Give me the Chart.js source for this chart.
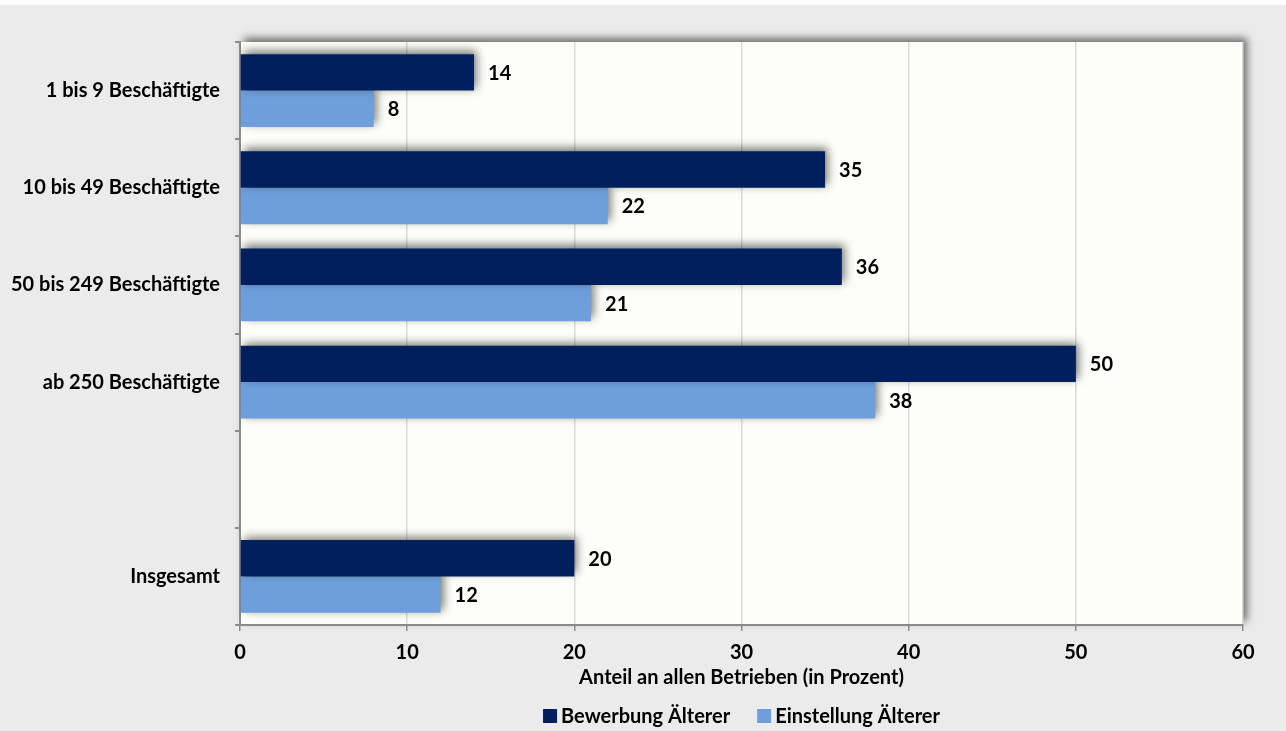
<!DOCTYPE html>
<html>
<head>
<meta charset="utf-8">
<script src="https://cdn.jsdelivr.net/npm/chart.js@4"></script>
<style>
  html, body { margin: 0; padding: 0; background: #ebebeb; }
  #wrap { width: 1286px; height: 731px; position: relative; }
</style>
</head>
<body>
<div id="wrap"><canvas id="chart" width="1286" height="731"></canvas></div>
<script>
// Betriebsgrößenklassen (leere Zeile als Abstand vor "Insgesamt")
const categories = ['1 bis 9 Beschäftigte', '10 bis 49 Beschäftigte', '50 bis 249 Beschäftigte', 'ab 250 Beschäftigte', '', 'Insgesamt'];
const bewerbung = [14, 35, 36, 50, null, 20];
const einstellung = [8, 22, 21, 38, null, 12];
const xTicks = [0, 10, 20, 30, 40, 50, 60];

const FONT = 'Lato, "Open Sans", sans-serif';
const FS = 20;

// Hintergrund der Grafik und Zeichenfläche mit Schatten
const backdrop = {
  id: 'backdrop',
  beforeDraw(chart) {
    const { ctx, chartArea: a, width, height } = chart;
    ctx.save();
    ctx.fillStyle = '#ebebeb';
    ctx.fillRect(0, 0, width, height);
    ctx.fillStyle = '#ffffff';
    ctx.fillRect(0, 0, width, 5);
    ctx.shadowColor = 'rgba(0,0,0,0.55)';
    ctx.shadowBlur = 8;
    ctx.shadowOffsetX = 4;
    ctx.shadowOffsetY = -4;
    ctx.fillStyle = '#fefef8';
    ctx.fillRect(a.left, a.top, a.right - a.left, a.bottom - a.top);
    ctx.restore();
  }
};

// Schlagschatten für die Balken
const barShadow = {
  id: 'barShadow',
  beforeDatasetsDraw(chart) {
    const ctx = chart.ctx;
    ctx.save();
    ctx.shadowColor = 'rgba(0,0,0,0.55)';
    ctx.shadowBlur = 9;
    ctx.shadowOffsetX = 3;
    ctx.shadowOffsetY = -3;
  },
  afterDatasetsDraw(chart) {
    chart.ctx.restore();
  }
};

// Wertebeschriftung rechts neben den Balken
const valueLabels = {
  id: 'valueLabels',
  afterDatasetsDraw(chart) {
    const ctx = chart.ctx;
    ctx.save();
    ctx.font = 'bold ' + FS + 'px ' + FONT;
    ctx.fillStyle = '#000000';
    ctx.textAlign = 'left';
    ctx.textBaseline = 'middle';
    chart.data.datasets.forEach((ds, i) => {
      chart.getDatasetMeta(i).data.forEach((bar, j) => {
        const v = ds.data[j];
        if (v === null || v === undefined) return;
        ctx.fillText(String(v), bar.x + 14, bar.y + 1);
      });
    });
    ctx.restore();
  }
};

// Legende unter der Achsenbeschriftung, zentriert zur Zeichenfläche
const bottomLegend = {
  id: 'bottomLegend',
  afterDraw(chart) {
    const { ctx, chartArea: a } = chart;
    const box = 14, gapText = 4, gapItem = 27, y = 716;
    ctx.save();
    ctx.font = 'bold ' + FS + 'px ' + FONT;
    ctx.textBaseline = 'middle';
    ctx.textAlign = 'left';
    const items = chart.data.datasets.map(ds => ({ text: ds.label, color: ds.backgroundColor, w: ctx.measureText(ds.label).width }));
    const total = items.reduce((s, it) => s + box + gapText + it.w, 0) + gapItem * (items.length - 1);
    let x = (a.left + a.right) / 2 - total / 2;
    items.forEach(it => {
      ctx.fillStyle = it.color;
      ctx.fillRect(x, y - box / 2, box, box);
      ctx.fillStyle = '#000';
      ctx.fillText(it.text, x + box + gapText, y + 1);
      x += box + gapText + it.w + gapItem;
    });
    ctx.restore();
  }
};

new Chart(document.getElementById('chart'), {
  type: 'bar',
  data: {
    labels: categories,
    datasets: [
      { label: 'Bewerbung Älterer', data: bewerbung, backgroundColor: '#001f5c', borderWidth: 0 },
      { label: 'Einstellung Älterer', data: einstellung, backgroundColor: '#6e9fda', borderWidth: 0 }
    ]
  },
  options: {
    indexAxis: 'y',
    responsive: false,
    animation: false,
    datasets: { bar: { barPercentage: 1, categoryPercentage: 0.75 } },
    layout: { padding: { top: 42, right: 43, left: 0, bottom: 41 } },
    scales: {
      x: {
        min: 0, max: 60,
        afterBuildTicks(scale) { scale.ticks = xTicks.map(v => ({ value: v })); },
        grid: { color: '#d9d9d9', lineWidth: 1.5, tickColor: '#8c8c8c', tickLength: 6 },
        border: { color: '#8c8c8c', width: 2 },
        ticks: { color: '#000', font: { family: FONT, weight: 'bold', size: FS }, padding: 10 },
        title: { display: true, text: 'Anteil an allen Betrieben (in Prozent)', color: '#000',
                 font: { family: FONT, weight: 'bold', size: FS }, padding: { top: -9, bottom: 0 } }
      },
      y: {
        offset: true,
        grid: { offset: true, drawOnChartArea: false, tickColor: '#8c8c8c', tickLength: 5, lineWidth: 2 },
        border: { color: '#8c8c8c', width: 2 },
        ticks: { color: '#000', font: { family: FONT, weight: 'bold', size: FS }, padding: 15 },
        afterFit(scale) { scale.width = 240; }
      }
    },
    plugins: {
      legend: { display: false },
      tooltip: { enabled: false }
    }
  },
  plugins: [backdrop, barShadow, valueLabels, bottomLegend]
});
</script>
</body>
</html>
